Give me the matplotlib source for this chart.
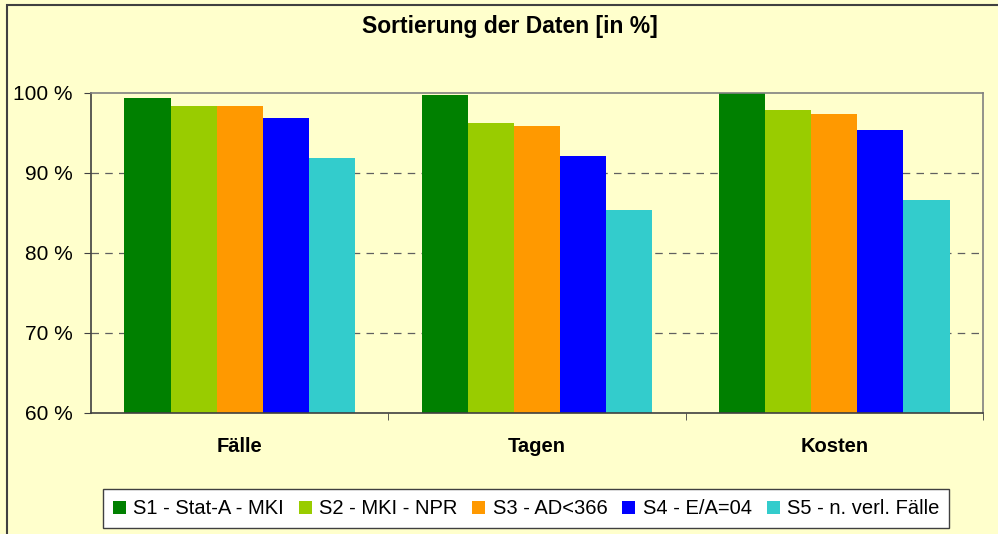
import numpy as np
import matplotlib.pyplot as plt
from matplotlib.patches import Rectangle

categories = ['Fälle', 'Tagen', 'Kosten']
series_names = ['S1 - Stat-A - MKI', 'S2 - MKI - NPR', 'S3 - AD<366',
                'S4 - E/A=04', 'S5 - n. verl. Fälle']
s1 = [99.4, 99.8, 100.0]
s2 = [98.4, 96.3, 97.9]
s3 = [98.4, 95.9, 97.4]
s4 = [96.9, 92.1, 95.4]
s5 = [91.9, 85.4, 86.6]
yticks = [60, 70, 80, 90, 100]

colors = ['#008000', '#99CC00', '#FF9900', '#0000FF', '#33CCCC']
bg = '#FFFFCC'

plt.rcParams['font.family'] = ['Liberation Sans', 'DejaVu Sans']

fig = plt.figure(figsize=(9.98, 5.34), dpi=100)
fig.patch.set_facecolor(bg)
ax = fig.add_axes([0.0912, 0.2266, 0.8938, 0.5993])
ax.set_facecolor(bg)

# outer chart border (cut off at right/bottom like the original)
fig.patches.append(Rectangle((0.007, -0.1), 1.2, 0.1 + 0.9906, transform=fig.transFigure,
                             fill=False, edgecolor='#404040', linewidth=1.5, zorder=0))

x = np.arange(len(categories))
w = 0.155
for i, vals in enumerate([s1, s2, s3, s4, s5]):
    ax.bar(x + (i - 2) * w, vals, width=w, color=colors[i], label=series_names[i], zorder=2)

ax.set_xlim(-0.5, 2.5)
ax.set_ylim(60, 100)
ax.set_yticks(yticks)
ax.set_yticklabels([f'{t} %' for t in yticks], fontsize=15)
ax.set_xticks(x)
ax.set_xticklabels(categories, fontsize=14.5, fontweight='bold')
ax.tick_params(axis='x', length=0, pad=17)
ax.tick_params(axis='y', direction='out', length=5, color='#404040', pad=8)
ax.set_xticks([0.5, 1.5, 2.5], minor=True)
ax.tick_params(axis='x', which='minor', direction='out', length=5, color='#404040')

for t in [70, 80, 90]:
    ax.axhline(t, color='#606060', linestyle=(0, (6, 5)), linewidth=0.9, zorder=1)

for side in ['top', 'right']:
    ax.spines[side].set_color('#808080')
    ax.spines[side].set_linewidth(1.2)
for side in ['left', 'bottom']:
    ax.spines[side].set_color('#404040')
    ax.spines[side].set_linewidth(1.2)

fig.text(0.511, 0.95, 'Sortierung der Daten [in %]', ha='center', va='center',
         fontsize=16.5, fontweight='bold')

leg = fig.legend(loc='center', bbox_to_anchor=(0.527, 0.047), ncol=5, fontsize=14.5,
                 frameon=True, fancybox=False, edgecolor='#404040', facecolor='white',
                 handlelength=0.65, handleheight=0.65, handletextpad=0.35, columnspacing=0.75,
                 borderpad=0.5, borderaxespad=0)
leg.get_frame().set_linewidth(1.0)
leg.get_frame().set_alpha(1)

fig.savefig('out.png', dpi=100, facecolor=bg)
